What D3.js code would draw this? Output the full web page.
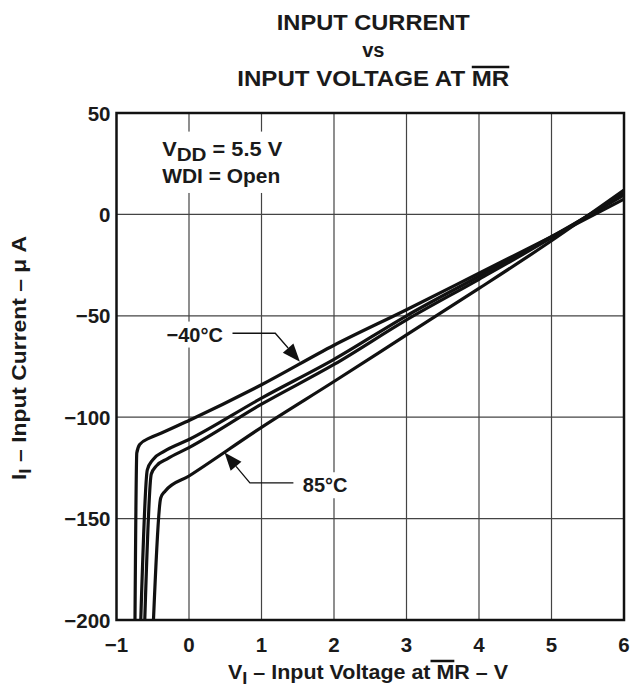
<!DOCTYPE html>
<html>
<head>
<meta charset="utf-8">
<script src="https://cdn.jsdelivr.net/npm/d3@7"></script>
<style>
  body { margin: 0; background: #fff; }
  text { font-family: Arial, "Liberation Sans", Helvetica, sans-serif; font-weight: bold; fill: #1a1a1a; }
</style>
</head>
<body>
<div id="chart"></div>
<script>
// curves (V in volts, I in uA)
var seriesNames = ['-40C', '0C', '25C', '85C'];
var voltM40 = [-0.745, -0.72, -0.68, -0.54, -0.38, 0, 1, 2, 3, 4, 5, 6];
var currM40 = [-200, -117.6, -113.5, -110.2, -107.8, -101.6, -84, -64.5, -47, -29, -11, 7.5];
var volt0 = [-0.665, -0.575, -0.5, -0.35, 0, 1, 2, 3, 4, 5, 6];
var curr0 = [-200, -126, -121, -117, -111, -90.6, -71.5, -50, -30.5, -11, 9.5];
var volt25 = [-0.61, -0.52, -0.45, -0.3, 0, 1, 2, 3, 4, 5, 6];
var curr25 = [-200, -128, -124, -120.5, -115, -93.6, -74, -52, -32, -11.5, 10.5];
var volt85 = [-0.49, -0.39, -0.33, 0, 1, 2, 3, 4, 5, 6];
var curr85 = [-200, -139.8, -136.5, -129, -105, -82.4, -59.4, -36.5, -13, 12];

var xTicks = [-1, 0, 1, 2, 3, 4, 5, 6];
var yTicks = [50, 0, -50, -100, -150, -200];

var width = 633, height = 687;
var x = d3.scaleLinear().domain([-1, 6]).range([116.5, 624]);
var y = d3.scaleLinear().domain([-200, 50]).range([620, 113]);

var svg = d3.select('#chart').append('svg')
  .attr('width', width)
  .attr('height', height);

var minus = function(v) { return String(v).replace('-', '\u2212'); };

// grid
svg.append('g').selectAll('line.gx')
  .data(xTicks.slice(1, -1))
  .enter().append('line')
  .attr('x1', function(d) { return x(d); }).attr('x2', function(d) { return x(d); })
  .attr('y1', y(-200)).attr('y2', y(50))
  .attr('stroke', '#444').attr('stroke-width', 1.2);
svg.append('g').selectAll('line.gy')
  .data(yTicks.slice(1, -1))
  .enter().append('line')
  .attr('y1', function(d) { return y(d); }).attr('y2', function(d) { return y(d); })
  .attr('x1', x(-1)).attr('x2', x(6))
  .attr('stroke', '#444').attr('stroke-width', 1.2);

// white knock-outs behind the in-plot labels
var knock = svg.append('g');

// conditions box
var cond = svg.append('g');
var c1 = cond.append('text').attr('x', x(-0.37)).attr('y', y(29)).style('font-size', '20px')
  .attr('textLength', 120).attr('lengthAdjust', 'spacingAndGlyphs');
c1.append('tspan').text('V');
c1.append('tspan').text('DD').attr('dy', 5).style('font-size', '19px');
c1.append('tspan').text(' = 5.5 V').attr('dy', -5);
cond.append('text').attr('x', x(-0.37)).attr('y', y(15.5)).style('font-size', '20px')
  .attr('textLength', 118).attr('lengthAdjust', 'spacingAndGlyphs')
  .text('WDI = Open');

// curves
var line = d3.line()
  .x(function(d) { return x(d[0]); })
  .y(function(d) { return y(d[1]); })
  .curve(d3.curveMonotoneX);

var series = [
  d3.zip(voltM40, currM40),
  d3.zip(volt0, curr0),
  d3.zip(volt25, curr25),
  d3.zip(volt85, curr85)
];

svg.append('g').selectAll('path')
  .data(series)
  .enter().append('path')
  .attr('d', line)
  .attr('fill', 'none')
  .attr('stroke', '#111')
  .attr('stroke-width', 3.2)
  .attr('stroke-linejoin', 'round');

// frame
svg.append('rect')
  .attr('x', x(-1)).attr('y', y(50))
  .attr('width', x(6) - x(-1)).attr('height', y(-200) - y(50))
  .attr('fill', 'none').attr('stroke', '#111').attr('stroke-width', 2.5);

// tick labels
svg.append('g').selectAll('text')
  .data(yTicks)
  .enter().append('text')
  .attr('x', x(-1) - 6).attr('y', function(d) { return y(d) + 7.5; })
  .attr('text-anchor', 'end')
  .style('font-size', '20.5px')
  .text(minus);
svg.append('g').selectAll('text')
  .data(xTicks)
  .enter().append('text')
  .attr('x', function(d) { return x(d); }).attr('y', 652)
  .attr('text-anchor', 'middle')
  .style('font-size', '20.5px')
  .text(minus);

// annotation arrows: leader starts next to the label, bends, ends at the curve
function arrow(pts, label, lx, ly) {
  var p = pts.map(function(d) { return [x(d[0]), y(d[1])]; });
  var tip = p[p.length - 1], prev = p[p.length - 2];
  var ang = Math.atan2(tip[1] - prev[1], tip[0] - prev[0]);
  var L = 18, W = 7;
  var bx = tip[0] - L * Math.cos(ang), by = tip[1] - L * Math.sin(ang);
  svg.append('path')
    .attr('d', d3.line()([p[0], p[1], [bx, by]]))
    .attr('fill', 'none').attr('stroke', '#111').attr('stroke-width', 1.3);
  svg.append('path')
    .attr('d', d3.line()([tip,
      [bx + W * Math.sin(ang), by - W * Math.cos(ang)],
      [bx - W * Math.sin(ang), by + W * Math.cos(ang)]]) + 'Z')
    .attr('fill', '#111');
  var t = svg.append('text').attr('x', x(lx)).attr('y', y(ly))
    .style('font-size', '20px').text(label);
  var bb = t.node().getBBox();
  knock.append('rect').attr('x', bb.x - 4).attr('y', bb.y - 2)
    .attr('width', bb.width + 8).attr('height', bb.height + 4).attr('fill', '#fff');
}
arrow([[0.6, -58.6], [1.19, -58.6], [1.53, -72.6]], '\u221240\u00b0C', -0.31, -62.7);
arrow([[1.44, -132.4], [0.84, -132.4], [0.49, -117.4]], '85\u00b0C', 1.57, -137);

var cb = cond.node().getBBox();
knock.append('rect').attr('x', cb.x - 8).attr('y', cb.y - 6)
  .attr('width', cb.width + 16).attr('height', cb.height + 12).attr('fill', '#fff');

// overline helper
function overline(textSel, from, to, dy) {
  var n = textSel.node();
  var a = n.getStartPositionOfChar(from), b = n.getEndPositionOfChar(to);
  svg.append('line')
    .attr('x1', a.x).attr('x2', b.x)
    .attr('y1', a.y + dy).attr('y2', a.y + dy)
    .attr('stroke', '#111').attr('stroke-width', 2.5);
}

// title
var cx = (x(-1) + x(6)) / 2 + 3;
svg.append('text').attr('x', cx).attr('y', 30).attr('text-anchor', 'middle')
  .style('font-size', '21.5px').attr('textLength', 193).attr('lengthAdjust', 'spacingAndGlyphs')
  .text('INPUT CURRENT');
svg.append('text').attr('x', cx).attr('y', 57).attr('text-anchor', 'middle')
  .style('font-size', '20px').text('vs');
var t3 = svg.append('text').attr('x', cx).attr('y', 86).attr('text-anchor', 'middle')
  .style('font-size', '21.5px').attr('textLength', 272).attr('lengthAdjust', 'spacingAndGlyphs')
  .text('INPUT VOLTAGE AT MR');
overline(t3, 17, 18, -19);

// x axis title
var xt = svg.append('text').attr('x', 368).attr('y', 679).attr('text-anchor', 'middle')
  .style('font-size', '20px').attr('textLength', 280).attr('lengthAdjust', 'spacingAndGlyphs');
xt.append('tspan').text('V');
xt.append('tspan').text('I').attr('dy', 5).style('font-size', '17px');
xt.append('tspan').text(' \u2013 Input Voltage at MR \u2013 V').attr('dy', -5);
overline(xt, 21, 22, -18);

// y axis title
var yt = svg.append('text')
  .attr('transform', 'translate(26,' + 358 + ') rotate(-90)')
  .attr('text-anchor', 'middle')
  .style('font-size', '20px').attr('textLength', 244).attr('lengthAdjust', 'spacingAndGlyphs');
yt.append('tspan').text('I');
yt.append('tspan').text('I').attr('dy', 5).style('font-size', '17px');
yt.append('tspan').text(' \u2013 Input Current \u2013 \u03bc A').attr('dy', -5);
</script>
</body>
</html>
